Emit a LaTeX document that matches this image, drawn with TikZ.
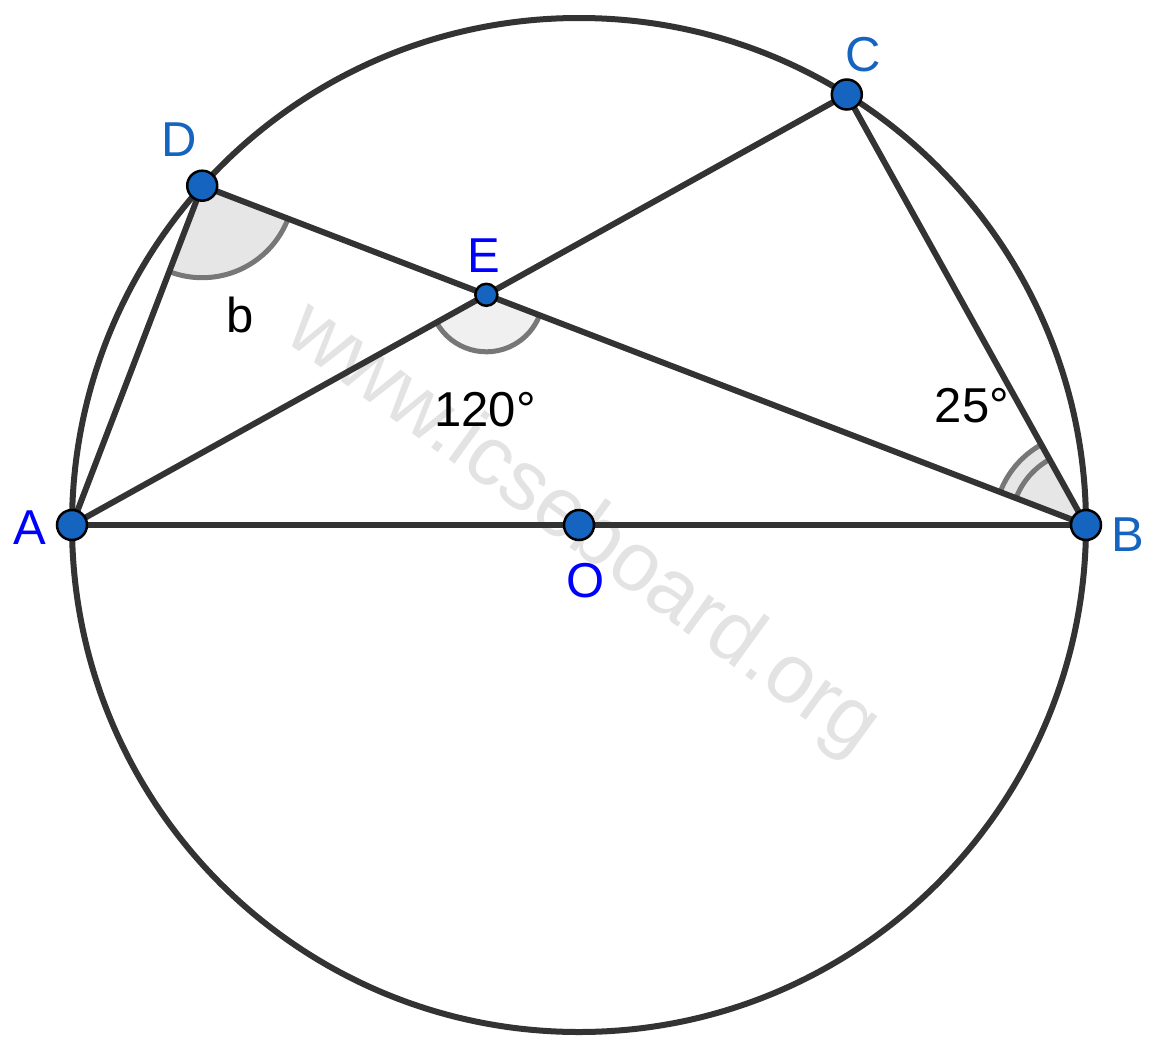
\documentclass[tikz,border=0pt]{standalone}
\usepackage{fontspec}
\setmainfont{Liberation Sans}
\usetikzlibrary{angles,calc}
\definecolor{labelblue}{HTML}{0000FF}
\definecolor{labelmid}{HTML}{1565C0}
\definecolor{ptblue}{HTML}{1565C0}
\definecolor{linegray}{HTML}{333333}
\definecolor{arcgray}{HTML}{777777}
\definecolor{anglefill}{HTML}{E6E6E6}
\definecolor{wmgray}{HTML}{E3E3E3}
\tikzset{
  seg/.style={draw=linegray, line width=6pt, line cap=round},
  pt/.style={circle, fill=ptblue, draw=black, line width=2.5pt, minimum size=30pt, inner sep=0pt},
  ptsmall/.style={pt, minimum size=22pt},
  lbl/.style={inner sep=0pt, font=\fontsize{49}{58}\selectfont},
  anglemark/.style={draw=arcgray, line width=5pt, fill=anglefill},
}
\begin{document}
\begin{tikzpicture}[x=1pt,y=1pt]
\useasboundingbox (0,0) rectangle (1159,-1052);
% watermark
\node[rotate=-36, text=wmgray, inner sep=0pt, font=\fontsize{84}{84}\selectfont] (wm) at (582,-530) {www.icseboard.org};
% points
\coordinate (O) at (579,-525);
\coordinate (A) at (72,-525);
\coordinate (B) at (1086,-525);
\coordinate (C) at (846.8,-94.5);
\coordinate (D) at (202.2,-185.7);
\coordinate (E) at (intersection of A--C and B--D);
% angle marks
\pic[anglemark, angle radius=92pt] {angle=A--D--B};
\pic[anglemark, fill=anglefill!60, angle radius=57pt] {angle=A--E--B};
\pic[anglemark, angle radius=92pt] {angle=C--B--D};
\pic[draw=arcgray, line width=5pt, angle radius=75pt] {angle=C--B--D};
% circle
\draw[draw=linegray, line width=6pt] (O) circle[radius=507pt];
% segments
\draw[seg] (A) -- (B);
\draw[seg] (A) -- (C);
\draw[seg] (A) -- (D);
\draw[seg] (D) -- (B);
\draw[seg] (B) -- (C);
% point markers
\node[pt] (pA) at (A) {};
\node[pt] (pB) at (B) {};
\node[pt] (pC) at (C) {};
\node[pt] (pD) at (D) {};
\node[ptsmall] (pE) at (E) {};
\node[pt] (pO) at (O) {};
% labels
\node[lbl, text=labelblue] (lA) at (30,-528) {A};
\node[lbl, text=labelmid] (lB) at (1128,-535) {B};
\node[lbl, text=labelmid] (lC) at (863,-55) {C};
\node[lbl, text=labelmid] (lD) at (179,-140) {D};
\node[lbl, text=labelblue] (lE) at (484,-256) {E};
\node[lbl, text=labelblue] (lO) at (586,-581) {O};
\node[lbl] (lb) at (240,-315) {b};
\node[lbl] (l120) at (485,-410) {120°};
\node[lbl] (l25) at (972,-406) {25°};
\end{tikzpicture}
\end{document}
